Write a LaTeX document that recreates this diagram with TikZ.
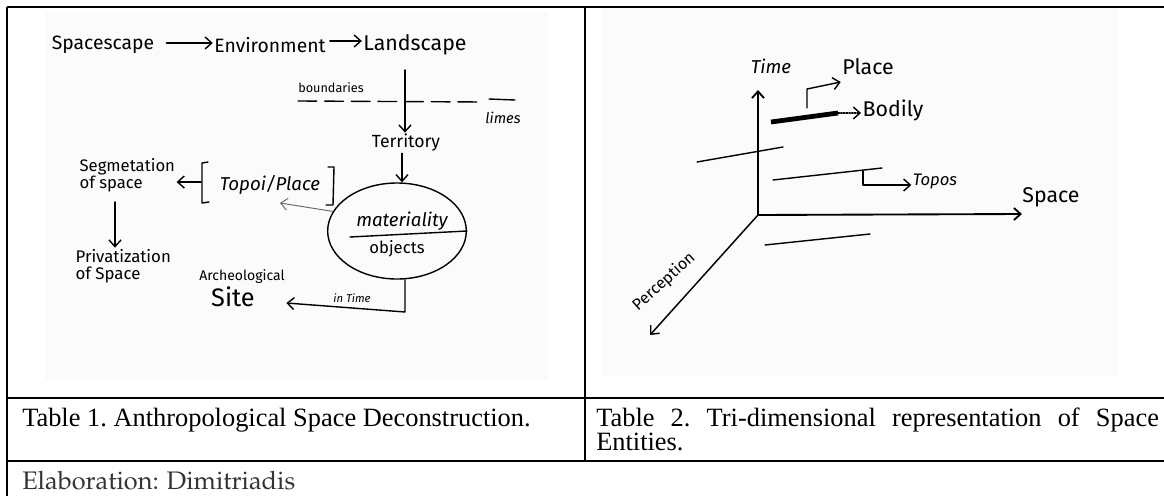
\documentclass[tikz,border=0pt]{standalone}
\usepackage[T1]{fontenc}
\usepackage{fontspec}
\setmainfont{Liberation Serif}
\newfontfamily\hand{Fira Sans}
\usetikzlibrary{arrows.meta,shapes.geometric,calc}
\newcommand{\hs}[1]{\hand\fontsize{#1}{#1}\selectfont}
\begin{document}
\begin{tikzpicture}[x=0.75pt,y=-0.75pt,
  >={Straight Barb[length=5pt,width=9pt]},
  tablerule/.style={line width=1.5pt},
  photo/.style={fill={rgb,255:red,251;green,251;blue,251}},
  stroke/.style={line width=1.05pt,line cap=round,line join=round},
  faint/.style={line width=0.7pt,draw=black!60,line cap=round},
  axisline/.style={line width=1.4pt,line cap=round},
  hw/.style={inner sep=1pt},
  captext/.style={font=\fontsize{19.8}{24}\selectfont\frenchspacing,inner sep=0pt}]
\useasboundingbox (0,0) rectangle (1164,496);
% photo backgrounds
\fill[photo] (45,12) rectangle (548,380);
\fill[photo] (602,8) rectangle (1118,376);
% table rules
\draw[tablerule] (7,7) -- (1164,7);
\draw[tablerule] (7,7) -- (7,496);
\draw[tablerule] (585,7) -- (585,461);
\draw[tablerule] (7,398) -- (1164,398);
\draw[tablerule] (7,461) -- (1164,461);
% captions
\node[captext,anchor=base west] (cap1) at (22,426) {Table 1. Anthropological Space Deconstruction.};
\node[captext,anchor=base west] (cap2a) at (596,426) {\makebox[422pt][s]{Table 2. Tri-dimensional representation of Space}};
\node[captext,anchor=base west] (cap2b) at (596,450) {Entities.};
\node[anchor=base west,inner sep=0pt,text=black!80,font=\fontencoding{T1}\fontfamily{ppl}\fontsize{19}{23}\selectfont] (elab) at (22,489) {Elaboration: Dimitriadis};

% ---------- left sketch ----------
\node[hw,font=\hs{14.5}] (spacescape) at (103,45) {Spacescape};
\node[hw,font=\hs{14.5}] (environment) at (270,45) {Environment};
\node[hw,font=\hs{16}] (landscape) at (415,45) {Landscape};
\draw[stroke,->] (spacescape.east) ++(8pt,1.5pt) coordinate (a1) -- (environment.west |- a1);
\draw[stroke,->] (environment.east) ++(2pt,3pt) coordinate (a2) -- (landscape.west |- a2);
\node[hw,font=\hs{9.5}] (boundaries) at (331,88) {boundaries};
\node[hw,font=\hand\itshape\fontsize{11}{11}\selectfont] (limes) at (503,118) {limes};
\node[hw,font=\hand\fontsize{13.2}{13}\selectfont] (territory) at (406,143) {Territory};
\draw[stroke,dash pattern=on 14pt off 6pt] (298,101) -- (482,102);
\draw[stroke] (489,99) -- (515,100);
\coordinate (ltop) at (405,70);
\draw[stroke,->] (ltop) -- (ltop |- territory.north);
% ellipse
\node[draw,stroke,ellipse,minimum width=104pt,minimum height=72pt] (mat) at (397,231) {};
\draw[stroke] (350,237) -- (mat.east);
\node[hw,font=\hand\itshape\fontsize{14}{14}\selectfont] (materiality) at (402,221) {materiality};
\node[hw,font=\hs{12.5}] (objects) at (397,249) {objects};
\draw[stroke,->] (territory.south) ++(-3pt,0) coordinate (t1) -- (t1 |- mat.north);
% Topoi / Place
\node[hw,font=\hand\itshape\fontsize{14}{14}\selectfont] (topoi) at (270,185) {Topoi/Place};
\draw[stroke] (208,162) -- (202,163) -- (202,203) -- (209,202);
\draw[stroke] (328,167) -- (334,167) -- (333,205) -- (326,205);
\coordinate (topoiL) at (201,182);
\coordinate (topoiArr) at (280,203);
\draw[faint,->] (mat.163) -- (topoiArr);
% Segmentation
\node[hw,font=\hs{12.5},align=left,anchor=west] (seg) at (78,175) {Segmetation\\of space};
\draw[stroke,->] (topoiL) -- (seg.east |- topoiL);
\node[hw,font=\hs{12.6},align=left,anchor=west] (priv) at (74,266) {Privatization\\of Space};
\coordinate (s1) at (115,202);
\draw[stroke,->] (s1) -- (s1 |- priv.north);
% Archeological Site
\node[hw,font=\hs{10.5}] (arch) at (242,277) {Archeological};
\node[hw,font=\hs{19}] (site) at (233,297) {Site};
\coordinate (m1) at (405,312);
\draw[stroke,->] (mat.south) ++(6pt,0) |- (m1) -- ($(site.east)+(30,6)$);
\node[hw,font=\hand\itshape\fontsize{8.5}{9}\selectfont] (intime) at (352,298) {in Time};

% ---------- right sketch ----------
\coordinate (o) at (758,215);
\node[hw,font=\hand\itshape\fontsize{14}{14}\selectfont] (time) at (771,66) {Time};
\node[hw,font=\hs{16}] (space) at (1051,197) {Space};
\node[hw,font=\hs{12},rotate=42] (perception) at (664,282) {Perception};
\coordinate (pend) at (650,335);
\draw[axisline,->] (o) -- ($(time.south)+(-13,15)$);
\draw[axisline,->] (o) -- (1022,214);
\draw[line width=1.1pt,->,line cap=round] (o) -- (pend);
\node[hw,font=\hs{16}] (place) at (868,67) {Place};
\node[hw,font=\hs{16}] (bodily) at (893,110) {Bodily};
\node[hw,font=\hand\itshape\fontsize{12.5}{13}\selectfont] (topos) at (935,182) {Topos};
% entity bars
\draw[line width=3.6pt] (771,122) -- (838,113);
\draw[stroke,densely dotted,->] (838,113) -- (bodily.west |- 838,113);
\draw[stroke,->] (807,108) -- (807,89) -- (place.west |- 807,82);
\draw[stroke] (697,162) -- (783,147);
\draw[stroke] (773,180) -- (882,168);
\draw[stroke,->] (863,171) -- (863,185) -- (topos.west |- 863,185);
\draw[stroke] (765,245) -- (870,234);
\end{tikzpicture}
\end{document}
